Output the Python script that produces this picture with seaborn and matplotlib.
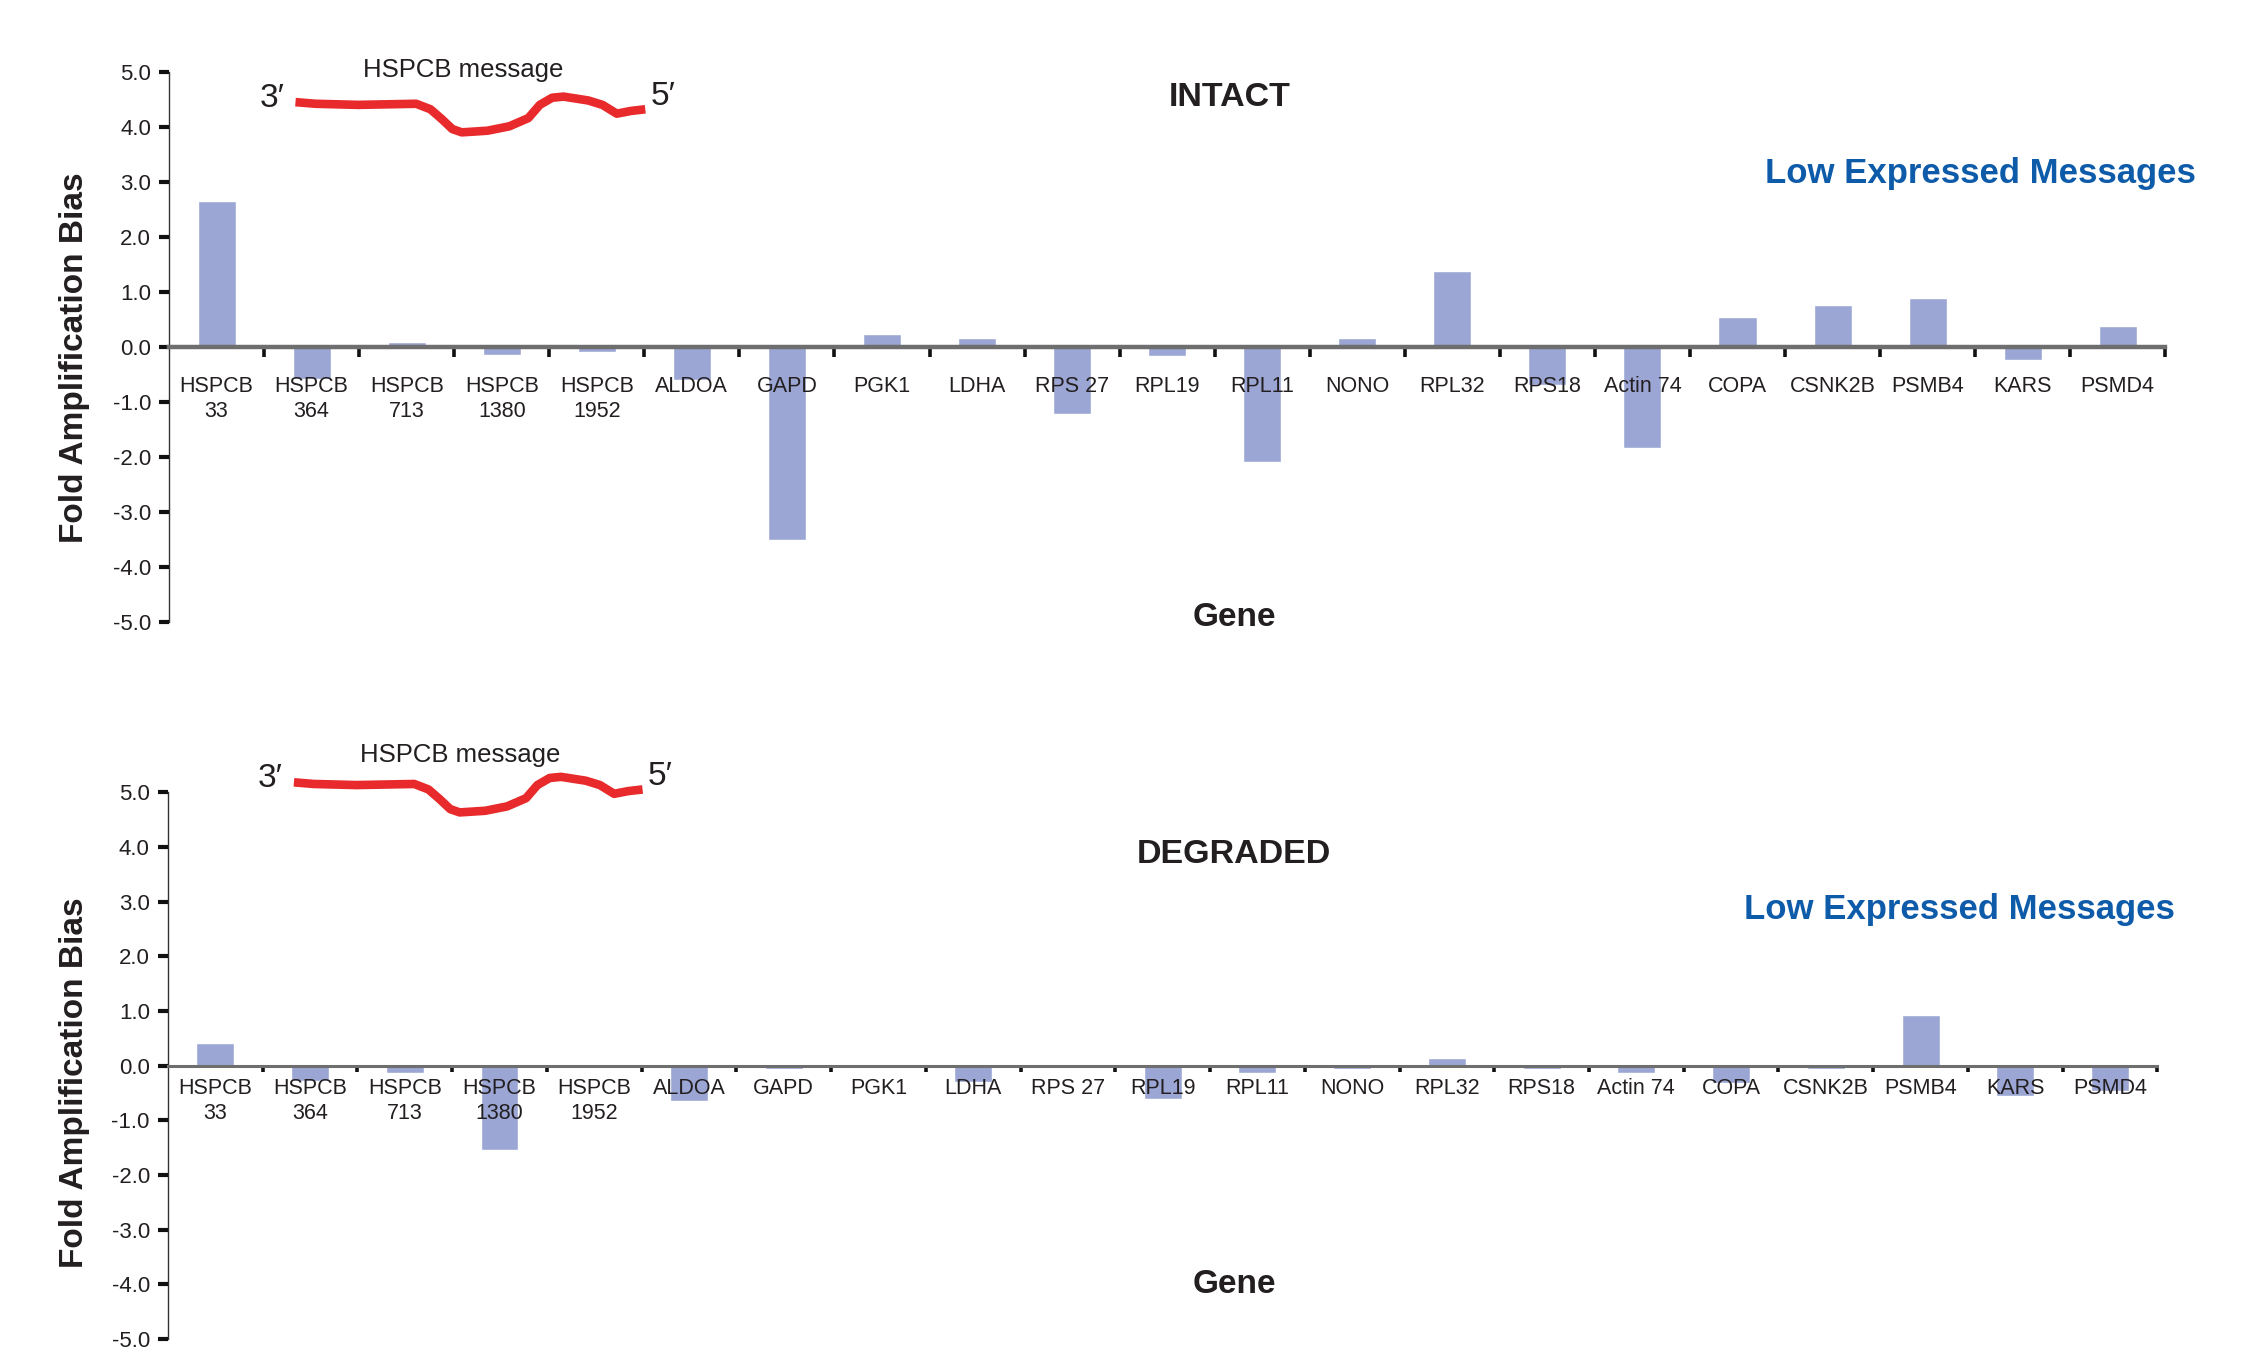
import numpy as np
import pandas as pd
import matplotlib
matplotlib.use("Agg")
import matplotlib.pyplot as plt
import seaborn as sns

# Genes along the x axis and their two-line tick labels
GENES = ["HSPCB 33", "HSPCB 364", "HSPCB 713", "HSPCB 1380", "HSPCB 1952",
         "ALDOA", "GAPD", "PGK1", "LDHA", "RPS 27", "RPL19", "RPL11", "NONO",
         "RPL32", "RPS18", "Actin 74", "COPA", "CSNK2B", "PSMB4", "KARS", "PSMD4"]
TICK_LABELS = ["HSPCB\n33", "HSPCB\n364", "HSPCB\n713", "HSPCB\n1380", "HSPCB\n1952",
               "ALDOA", "GAPD", "PGK1", "LDHA", "RPS 27", "RPL19", "RPL11", "NONO",
               "RPL32", "RPS18", "Actin 74", "COPA", "CSNK2B", "PSMB4", "KARS", "PSMD4"]

# Fold amplification bias per gene
INTACT = [2.66, -0.58, 0.09, -0.15, -0.08, -0.60, -3.50, 0.24, 0.16, -1.22,
          -0.16, -2.08, 0.16, 1.38, -0.69, -1.84, 0.55, 0.77, 0.90, -0.24, 0.38]
DEGRADED = [0.42, -0.29, -0.14, -1.55, 0.00, -0.64, -0.06, 0.00, -0.30, 0.00,
            -0.62, -0.14, -0.06, 0.13, -0.06, -0.14, -0.31, -0.07, 0.92, -0.55, -0.46]

Y_TICKS = [-5, -4, -3, -2, -1, 0, 1, 2, 3, 4, 5]

# Schematic of the HSPCB transcript (3' -> 5'), in category / bias units
MSG_X = [0.83, 1.04, 1.49, 2.10, 2.25, 2.37, 2.48, 2.58, 2.85, 3.08, 3.28,
         3.40, 3.53, 3.65, 3.91, 4.06, 4.21, 4.36, 4.51]
MSG_Y = [4.46, 4.43, 4.41, 4.43, 4.33, 4.15, 3.97, 3.91, 3.94, 4.02, 4.17,
         4.41, 4.54, 4.56, 4.49, 4.41, 4.25, 4.30, 4.33]

BAR_COLOR = "#9BA6D4"
TEXT_COLOR = "#231F20"
BLUE = "#0D5BA9"
RED = "#E82A2C"

sns.set_style("white")
plt.rcParams["font.family"] = ["Liberation Sans", "DejaVu Sans"]

fig = plt.figure(figsize=(22.48, 13.67), dpi=100)

panels = [
    dict(name="INTACT", values=INTACT,
         rect=[0.0752, 0.545, 0.888, 0.402], pad=21, zline=3.2, xtick_len=7,
         msg_dy=0.0, title_xy=(0.547, 0.929), blue_xy=(0.977, 0.873),
         gene_xy=(0.549, 0.548), ylab_y=0.738),
    dict(name="DEGRADED", values=DEGRADED,
         rect=[0.0747, 0.0205, 0.885, 0.400], pad=9, zline=2.2, xtick_len=4,
         msg_dy=0.72, title_xy=(0.549, 0.375), blue_xy=(0.9676, 0.335),
         gene_xy=(0.549, 0.060), ylab_y=0.208),
]

for p in panels:
    ax = fig.add_axes(p["rect"])
    df = pd.DataFrame({"gene": GENES, "bias": p["values"]})
    sns.barplot(data=df, x="gene", y="bias", order=GENES, color=BAR_COLOR,
                saturation=1, width=0.4, errorbar=None, ax=ax, zorder=1)
    # axis line, ticks and labels go over the bars
    ax.set_axisbelow(False)

    ax.set_xlim(-0.5, len(GENES) - 0.5)
    ax.set_ylim(-5, 5)
    ax.set_xlabel("")
    ax.set_ylabel("")

    # y axis: thick outward ticks on a thin spine
    ax.set_yticks(Y_TICKS)
    ax.set_yticklabels([f"{v:.1f}" for v in Y_TICKS])
    ax.tick_params(axis="y", direction="out", length=7, width=3, color="#111111",
                   labelsize=16, labelcolor=TEXT_COLOR, pad=6, left=True)

    # x axis sits on zero, ticks at category boundaries, labels at centres
    for side in ("top", "right"):
        ax.spines[side].set_visible(False)
    ax.spines["left"].set_color("#333333")
    ax.spines["left"].set_linewidth(1.0)
    ax.spines["bottom"].set_position(("data", 0))
    ax.spines["bottom"].set_color("#6E6E6E")
    ax.spines["bottom"].set_linewidth(p["zline"])
    ax.spines["bottom"].set_zorder(3)

    ax.set_xticks(np.arange(0.5, len(GENES), 1.0))
    ax.set_xticklabels([])
    ax.set_xticks(np.arange(len(GENES)), labels=TICK_LABELS, minor=True)
    ax.tick_params(axis="x", which="major", direction="out", length=p["xtick_len"],
                   width=2.6, color="#111111", bottom=True)
    ax.tick_params(axis="x", which="minor", length=0, pad=p["pad"],
                   labelsize=15.5, labelcolor=TEXT_COLOR)
    for lbl in ax.get_xticklabels(minor=True):
        lbl.set_linespacing(1.25)
    ax.grid(False)

    # HSPCB message schematic
    dy = p["msg_dy"]
    ax.plot(MSG_X, np.array(MSG_Y) + dy, color=RED, lw=6.2,
            solid_capstyle="butt", solid_joinstyle="round", clip_on=False, zorder=4)
    ax.text(0.58, 4.53 + dy, "3\u2032", fontsize=24, color=TEXT_COLOR,
            ha="center", va="center", clip_on=False)
    ax.text(4.70, 4.57 + dy, "5\u2032", fontsize=24, color=TEXT_COLOR,
            ha="center", va="center", clip_on=False)
    ax.text(2.59, 5.04 + dy * 0.9, "HSPCB message", fontsize=18.5, color=TEXT_COLOR,
            ha="center", va="center", clip_on=False)

    fig.text(*p["title_xy"], p["name"], fontsize=24.5, fontweight="bold",
             color=TEXT_COLOR, ha="center", va="center")
    fig.text(*p["blue_xy"], "Low Expressed Messages", fontsize=25,
             fontweight="bold", color=BLUE, ha="right", va="center")
    fig.text(*p["gene_xy"], "Gene", fontsize=24, fontweight="bold",
             color=TEXT_COLOR, ha="center", va="center")
    fig.text(0.033, p["ylab_y"], "Fold Amplification Bias", fontsize=24,
             fontweight="bold", color=TEXT_COLOR, rotation=90,
             ha="center", va="center")

fig.savefig("out.png", dpi=100, facecolor="white")
